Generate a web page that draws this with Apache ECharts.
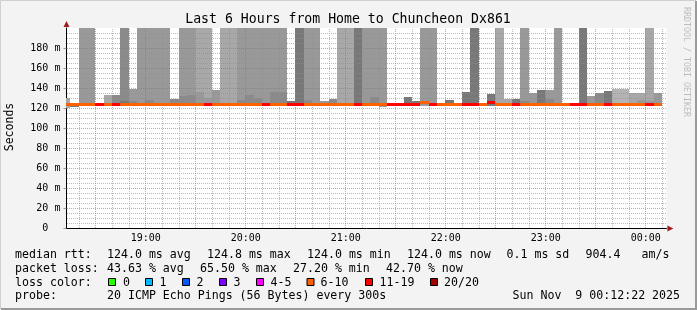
<!DOCTYPE html>
<html><head><meta charset="utf-8">
<script src="https://cdn.jsdelivr.net/npm/echarts@6/dist/echarts.min.js"></script>
<style>html,body{margin:0;padding:0;background:#f3f3f3}#c{width:697px;height:310px}</style>
</head><body><div id="c"></div><script>
// time axis in minutes after 18:00 (window 18:12:22 .. 00:12:22)
const startMin = 12.367, endMin = 372.367;
const firstStep = 10, stepLen = 5;   // 5-minute steps, first one 18:10-18:15

// smoke (ping spread) per step: top of spread in ms, shade level (0 light .. 4 dark)
const smokeTop = [130,125,200,200,125,133,133,200,139,200, 200,200,200,129,200,200,200,200,138,200,
                  200,200,200,200,200,200,200,127,200,200, 200,127,129,200,200,200,200,200,200,125,
                  125,131,127,200,200,125,128,125,136,200, 125,134,200,129,129,200,135,138,138,200,
                  125,125,200,132,135,137,139,139,135,135, 200,135];
const smokeLevel = [1,4,2,2,2,1,3,3,2,2, 2,2,2,3,2,2,1,1,2,1,
                    1,2,2,2,2,2,2,4,4,2, 2,2,3,1,1,4,2,2,2,2,
                    2,4,4,2,2,2,4,2,4,4, 2,4,1,1,4,2,2,4,2,2,
                    2,2,4,2,3,4,0,0,1,1, 1,2];
const smokeInner = [0,0,0,0,0,0,0,127,127,0, 128,0,0,0,132,133,136,130,0,0,
                    0,128,133,130,0,136,136,0,0,128, 0,0,0,0,0,0,0,131,0,0,
                    0,0,0,0,0,0,0,0,0,0, 0,0,0,0,0,127,0,0,129,0,
                    0,0,0,0,0,0,0,0,0,128, 127,0];
const smokeLow = [120,121,122.5,122.5,122.5,122.5,122.5,122.5,122.5,122.5, 122.5,122.5,122.5,122.5,122.5,122.5,122.5,122.5,122.5,122.5,
                  122.5,122.5,122.5,122.5,122.5,122.5,122.5,122.5,122.5,122.5, 122.5,122.5,122.5,122.5,122.5,122.5,122.5,122.5,121.5,122.5,
                  122.5,122.5,122.5,122.5,122.5,122.5,122.5,122.5,122.5,122.5, 122.5,122.5,122.5,122.5,122.5,122.5,122.5,122.5,122.5,122.5,
                  122.5,122.5,122.5,122.5,122.5,122.5,122.5,122.5,122.5,122.5, 122.5,122.5];
// median rtt (ms) and lost pings (of 20) per step
const medianRtt = [124,124,124,124,124,124,124,124,124,124, 124,124,124,124,124,124,124,124,124,124,
                   124,124,124,124,124,124,124,124,124,124, 124,124,124,124,124,124,124,124,124,124,
                   124,124,124,126,124,124,124,124,124,124, 124,126,124,124,124,124,124,124,124,124,
                   124,124,124,124,124,124,124,124,124,124, 124,124];
const lostPings = [8,8,8,8,12,8,12,8,8,8, 8,8,8,8,8,8,8,12,8,8,
                   8,8,8,8,12,8,8,12,12,8, 8,8,8,8,8,12,8,8,8,12,
                   12,12,12,8,12,8,8,8,12,12, 8,12,8,8,12,8,8,8,8,8,
                   8,12,12,8,8,12,8,8,8,8, 12,8];

const xLabelMin = [60,120,180,240,300,360];
const xLabelText = ['19:00','20:00','21:00','22:00','23:00','00:00'];
const lossLabels = ['0','1','2','3','4-5','6-10','11-19','20/20'];
const lossColors = ['#26ff00','#00b8ff','#0059ff','#7e00ff','#ff00ff','#ff6000','#ff0000','#a00000'];
const rttStats = ['124.0 ms avg','124.8 ms max','124.0 ms min','124.0 ms now','0.1 ms sd','904.4','am/s'];
const lossStats = ['43.63 % avg','65.50 % max','27.20 % min','42.70 % now'];
const probeText = '20 ICMP Echo Pings (56 Bytes) every 300s';
const dateText = 'Sun Nov  9 00:12:22 2025';
const titleText = 'Last 6 Hours from Home to Chuncheon Dx861';

const shades = ['#b4b4b4','#a8a8a8','#999999','#8a8a8a','#787878'];
function bucket(n){ if(n<=3) return n; if(n<=5) return 4; if(n<=10) return 5; if(n<=19) return 6; return 7; }

const smokeData = smokeTop.map((t,j)=>[firstStep+stepLen*j, firstStep+stepLen*(j+1), smokeLow[j], t, smokeLevel[j]]);
const innerData = [];
smokeInner.forEach((t,j)=>{ if(t>0) innerData.push([firstStep+stepLen*j, firstStep+stepLen*(j+1), smokeLow[j], t, Math.min(4, smokeLevel[j]+1)]); });
const medData = medianRtt.map((m,j)=>[firstStep+stepLen*j, firstStep+stepLen*(j+1), m, lostPings[j]]);

const vGrid = [], hGrid = [];
for (let m = 20; m <= 370; m += 10) vGrid.push([m, 0, m % 30 === 0 ? 1 : 0]);
for (let v = 5; v <= 195; v += 5) hGrid.push([startMin, v, v % 20 === 0 ? 1 : 0]);
const minorCol = 'rgba(143,143,143,0.6)', majorCol = 'rgba(222,79,79,0.6)';

function colRect(api, m0, m1, v0, v1){
  const a = api.coord([m0, v1]), b = api.coord([m1, v0]);
  const x0 = Math.floor(a[0]), x1 = Math.floor(b[0]);
  const y0 = Math.round(a[1]), y1 = Math.round(b[1]);
  return {x:x0, y:y0, width:x1-x0, height:y1-y0};
}
const smokeRender = (p, api) => ({type:'rect', shape: colRect(api, api.value(0), api.value(1), api.value(2), api.value(3)), style:{fill: shades[api.value(4)]}});

const mono = 'DejaVu Sans Mono';
const chart = echarts.init(document.getElementById('c'));
const G = {left:66.4, top:28, width:600, height:200};
const option = {
  animation:false,
  backgroundColor:'#f3f3f3',
  grid:{left:G.left, top:G.top, width:G.width, height:G.height, show:true, backgroundColor:'#ffffff', borderWidth:0},
  xAxis:{type:'value', min:startMin, max:endMin,
    axisLine:{show:true, lineStyle:{color:'#000', width:1}},
    axisTick:{show:false}, splitLine:{show:false},
    axisLabel:{customValues:xLabelMin, formatter:(v)=>xLabelText[xLabelMin.indexOf(Math.round(v))]||'',
      fontFamily:mono, fontSize:10, color:'#000', margin:5}},
  yAxis:{type:'value', min:0, max:200, interval:20,
    axisLine:{show:true, lineStyle:{color:'#000', width:1}},
    axisTick:{show:true, length:3, lineStyle:{color:'#999'}},
    splitLine:{show:false},
    axisLabel:{formatter:(v)=> v===0 ? '0  ' : v+' m', showMaxLabel:false, fontFamily:mono, fontSize:10, color:'#000', margin:6}},
  series:[
    {type:'custom', name:'smoke', clip:true, silent:true, data:smokeData, encode:{x:[0,1], y:[2,3]}, renderItem:smokeRender},
    {type:'custom', name:'smoke inner', clip:true, silent:true, data:innerData, encode:{x:[0,1], y:[2,3]}, renderItem:smokeRender},
    {type:'custom', name:'vgrid', silent:true, data:vGrid, encode:{x:0,y:1}, renderItem:(p, api)=>{
      const m = api.value(0); const a = api.coord([m,0]), b = api.coord([m,200]);
      const x = Math.floor(a[0]) + 0.5;
      return {type:'line', shape:{x1:x, y1:a[1], x2:x, y2:b[1]}, style:{stroke: api.value(2)? majorCol: minorCol, lineWidth:1, lineDash:[1,1]}};
    }},
    {type:'custom', name:'hgrid', silent:true, data:hGrid, encode:{x:0,y:1}, renderItem:(p, api)=>{
      const v = api.value(1); const a = api.coord([startMin,v]), b = api.coord([endMin,v]);
      const y = Math.round(a[1]) + 0.5;
      return {type:'line', shape:{x1:Math.floor(a[0])+1, y1:y, x2:b[0], y2:y}, style:{stroke: api.value(2)? majorCol: minorCol, lineWidth:1, lineDash:[1,1]}};
    }},
    {type:'custom', name:'median', clip:true, silent:true, data:medData, encode:{x:[0,1], y:2}, renderItem:(p, api)=>{
      const a = api.coord([api.value(0), api.value(2)]), b = api.coord([api.value(1), api.value(2)]);
      const x0 = Math.floor(a[0]), x1 = Math.floor(b[0]);
      return {type:'rect', shape:{x:x0, y:Math.round(a[1])-1, width:x1-x0, height:3}, style:{fill: lossColors[bucket(api.value(3))]}};
    }}
  ]
};
chart.setOption(option);

// decorations and legend
const T = (text, x, y, extra) => Object.assign({type:'text', x:x, y:y, silent:true,
  style:Object.assign({text:text, fill:'#000', fontFamily:mono, fontSize:11.6, align:'left', verticalAlign:'middle'}, (extra||{}).style||{})}, extra && extra.rotation!==undefined ? {rotation:extra.rotation} : {});
const gfx = [];
gfx.push(T(titleText, 348, 20, {style:{fontSize:13.2, align:'center'}}));
gfx.push(T('Seconds', 10.5, 127, {rotation:Math.PI/2, style:{align:'center', fontSize:11.5}}));
gfx.push(T('RRDTOOL / TOBI OETIKER', 686.5, 62, {rotation:-Math.PI/2, style:{align:'center', fontSize:8.3, fill:'#bdbdbd'}}));
const L1 = 254.5, L2 = 268.5, L3 = 282.5, L4 = 296;
gfx.push(T('median rtt:', 15, L1));
[107,207,307,407,506.5,585.5,641.5].forEach((x,i)=>gfx.push(T(rttStats[i], x, L1)));
gfx.push(T('packet loss:', 15, L2));
[107,200,293,386].forEach((x,i)=>gfx.push(T(lossStats[i], x, L2)));
gfx.push(T('loss color:', 15, L3));
const boxX = [108,145,182,219,256,306.5,365,430];
const labX = [123,159.5,196.5,233.5,270.5,320.5,379.5,444];
lossLabels.forEach((s,i)=>{
  gfx.push({type:'rect', silent:true, shape:{x:boxX[i]+0.5, y:278.5, width:7, height:7}, style:{fill:lossColors[i], stroke:'#000', lineWidth:1}});
  gfx.push(T(s, labX[i], L3));
});
gfx.push(T('probe:', 15, L4));
gfx.push(T(probeText, 107, L4));
gfx.push(T(dateText, 512.5, L4));
// frame
gfx.push({type:'polyline', silent:true, shape:{points:[[0.5,309],[0.5,0.5],[696,0.5]]}, style:{stroke:'#cfcfcf', lineWidth:1, fill:null}});
gfx.push({type:'polyline', silent:true, shape:{points:[[1,309],[696,309],[696,1]]}, style:{stroke:'#9a9a9a', lineWidth:2, fill:null}});
// axis arrows
const pTop = chart.convertToPixel({gridIndex:0}, [startMin, 200]);
const pRight = chart.convertToPixel({gridIndex:0}, [endMin, 0]);
const ax = Math.floor(pTop[0]) + 0.5, ay = Math.round(pRight[1]) + 0.5;
gfx.push({type:'polygon', silent:true, shape:{points:[[ax-3, pTop[1]-1],[ax+3, pTop[1]-1],[ax, pTop[1]-7]]}, style:{fill:'#a01e1e'}});
gfx.push({type:'polygon', silent:true, shape:{points:[[pRight[0]+1, ay-3],[pRight[0]+1, ay+3],[pRight[0]+7, ay]]}, style:{fill:'#a01e1e'}});
chart.setOption({graphic: gfx});
</script></body></html>
